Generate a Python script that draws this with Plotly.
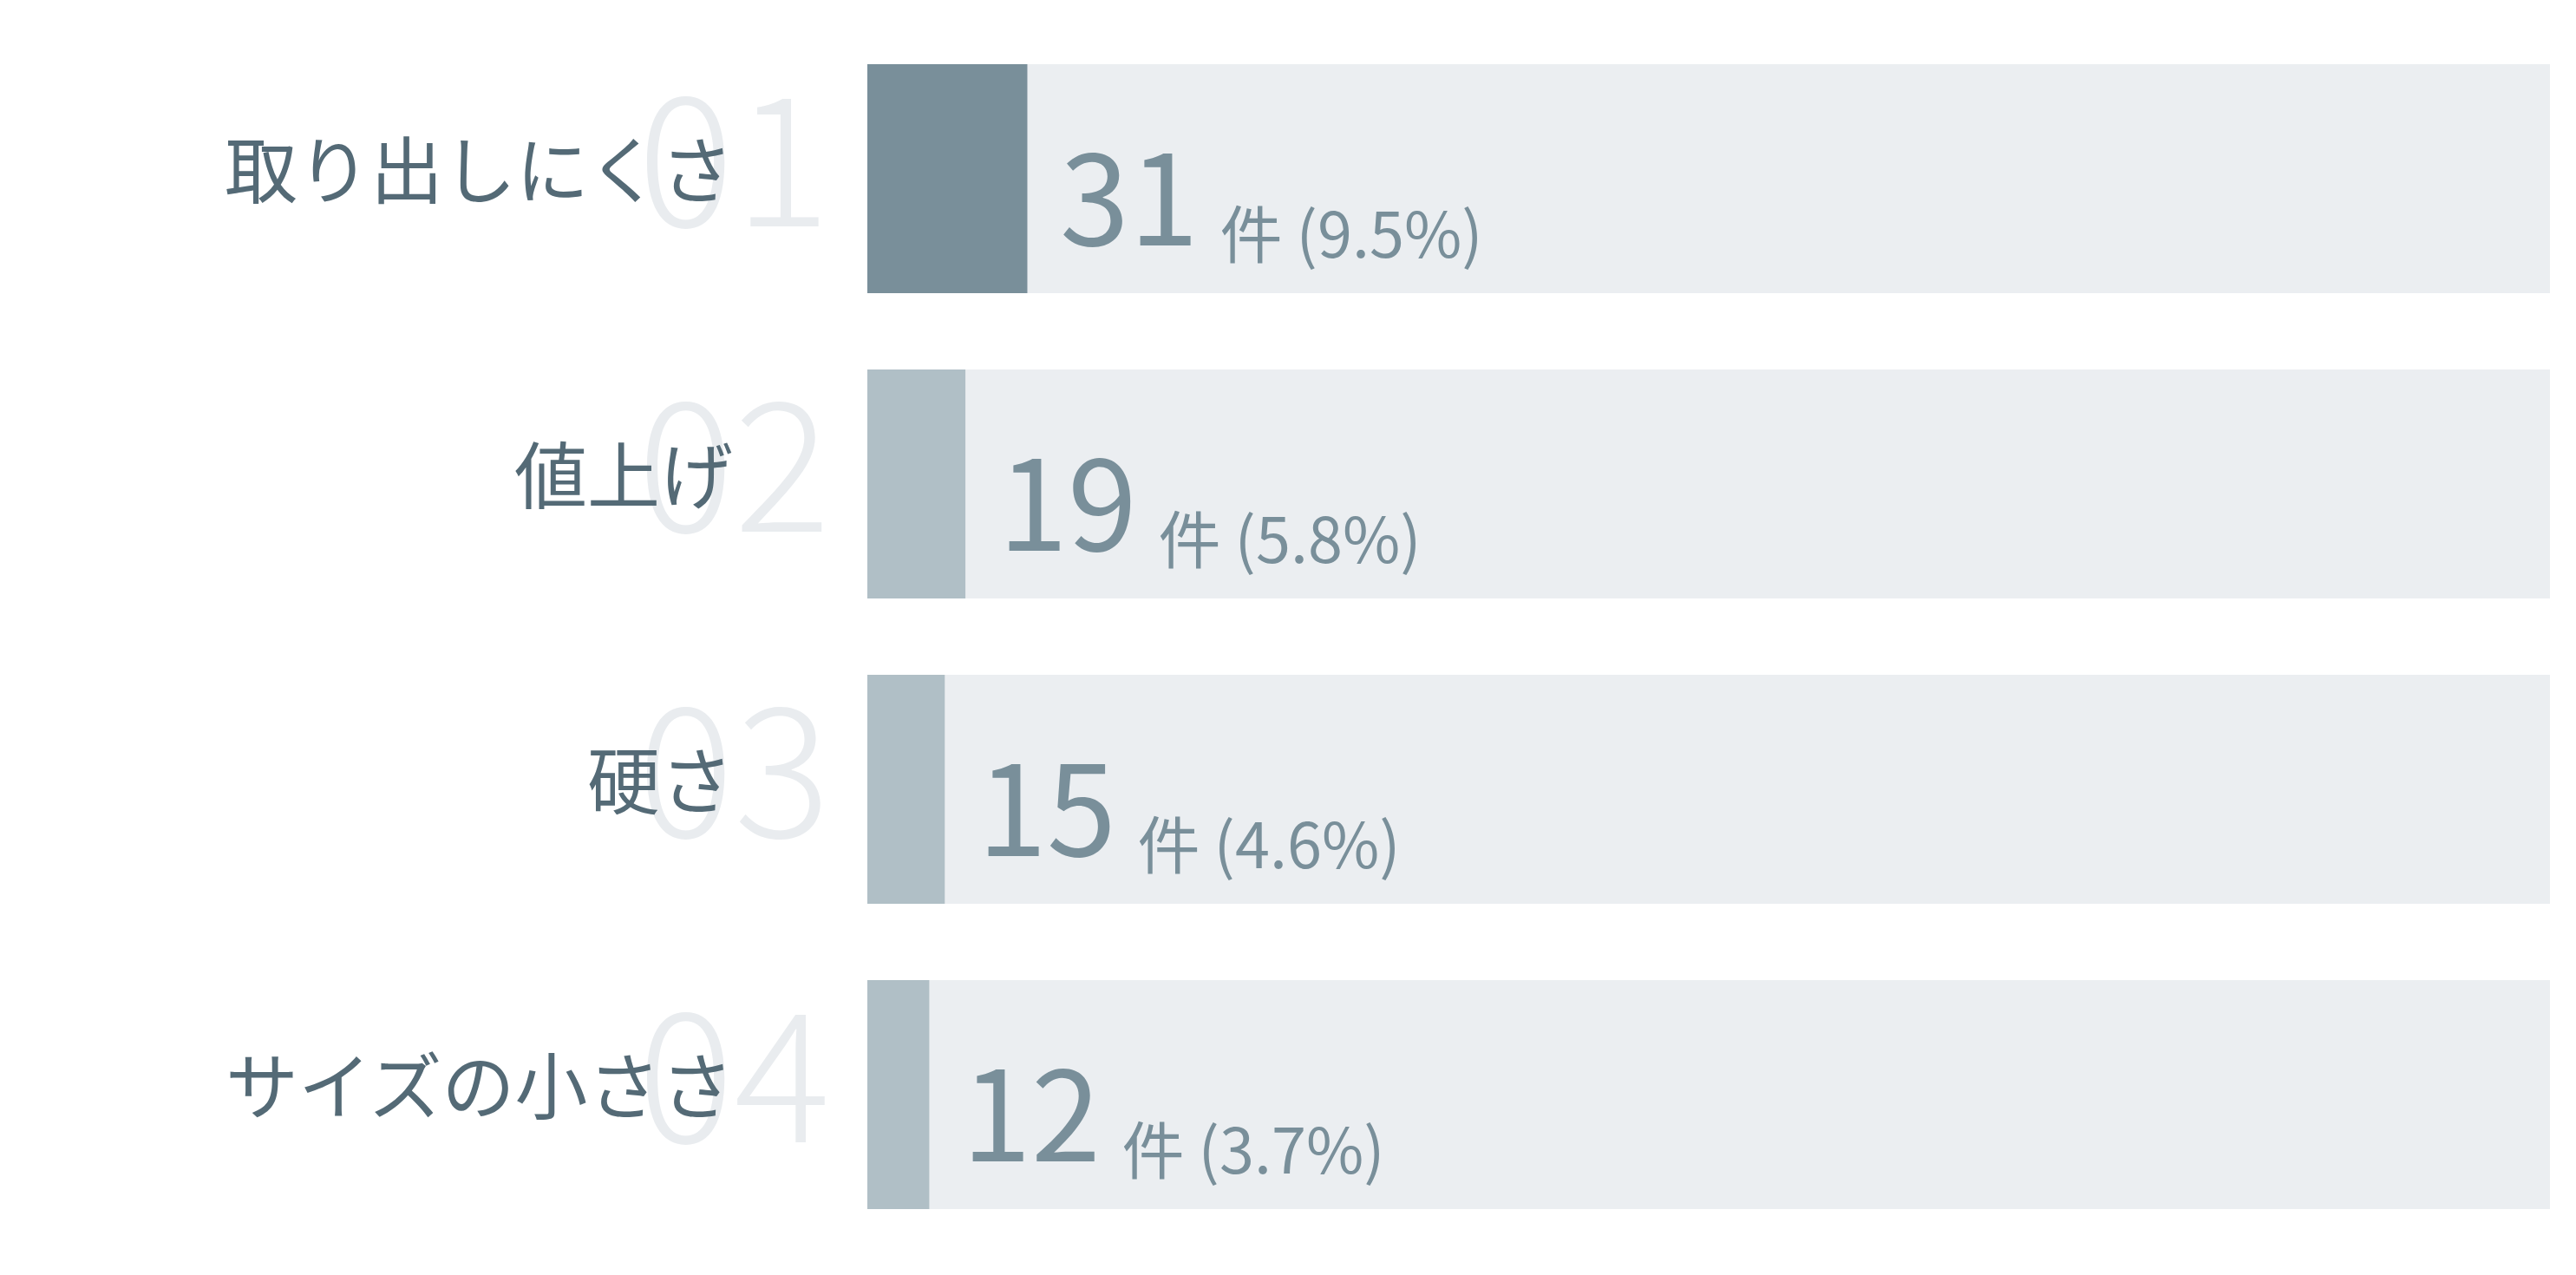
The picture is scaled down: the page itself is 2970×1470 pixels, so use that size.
import plotly.graph_objects as go

# ---- data ----
categories = ["取り出しにくさ", "値上げ", "硬さ", "サイズの小ささ"]
ranks = ["01", "02", "03", "04"]
counts = [31, 19, 15, 12]
percents = [9.5, 5.8, 4.6, 3.7]
total = 326
unit = "件"

# ---- styles ----
FONT = "Noto Sans CJK JP"
BG_BAR = "#EBEEF1"
TOP_BAR = "#798F9A"
OTHER_BAR = "#B0BFC6"
LABEL_COLOR = "#546A76"
VALUE_COLOR = "#798F9A"
RANK_COLOR = "#E9ECEF"

bar_colors = [TOP_BAR if i == 0 else OTHER_BAR for i in range(len(counts))]

fig = go.Figure()
fig.add_trace(go.Bar(
    y=categories, x=[total] * len(categories), orientation="h",
    marker=dict(color=BG_BAR, line=dict(width=0)), width=0.75,
    hoverinfo="skip", showlegend=False,
))
fig.add_trace(go.Bar(
    y=categories, x=counts, orientation="h",
    marker=dict(color=bar_colors, line=dict(width=0)), width=0.75,
    hoverinfo="skip", showlegend=False,
))

annotations = []
# big faint rank numbers
for cat, rk in zip(categories, ranks):
    annotations.append(dict(
        x=0, y=cat, xref="x", yref="y", text=rk, showarrow=False,
        xanchor="right", yanchor="middle", xshift=-40, yshift=36,
        font=dict(family=FONT, size=208, color=RANK_COLOR, weight=300),
    ))
# category labels
for cat in categories:
    annotations.append(dict(
        x=0, y=cat, xref="x", yref="y", text=cat, showarrow=False,
        xanchor="right", yanchor="middle", xshift=-153, yshift=15,
        font=dict(family=FONT, size=84, color=LABEL_COLOR),
    ))
# value labels (count large, unit + share smaller and slightly lowered)
for cat, c, p in zip(categories, counts, percents):
    txt = (f'<span style="font-size:144px">{c}</span>'
           f'<span style="font-size:110px">&nbsp;</span>'
           f'<span style="font-size:72px;baseline-shift:-14px">{unit} ({p:.1f}%)</span>')
    annotations.append(dict(
        x=c, y=cat, xref="x", yref="y", text=txt, showarrow=False,
        xanchor="left", yanchor="middle", xshift=36, yshift=-14,
        font=dict(family=FONT, size=70, color=VALUE_COLOR),
    ))

fig.update_layout(
    width=2970, height=1470,
    margin=dict(l=1000, r=30, t=30, b=32),
    barmode="overlay",
    paper_bgcolor="white", plot_bgcolor="white",
    xaxis=dict(range=[0, total], visible=False, fixedrange=True),
    yaxis=dict(categoryorder="array", categoryarray=categories,
               range=[len(categories) - 0.5, -0.5],
               visible=False, fixedrange=True),
    annotations=annotations,
    hovermode=False,
)

fig.write_html("out.html", config={"displayModeBar": False},
               post_script="document.body.style.margin='0';document.body.style.overflow='hidden';")
